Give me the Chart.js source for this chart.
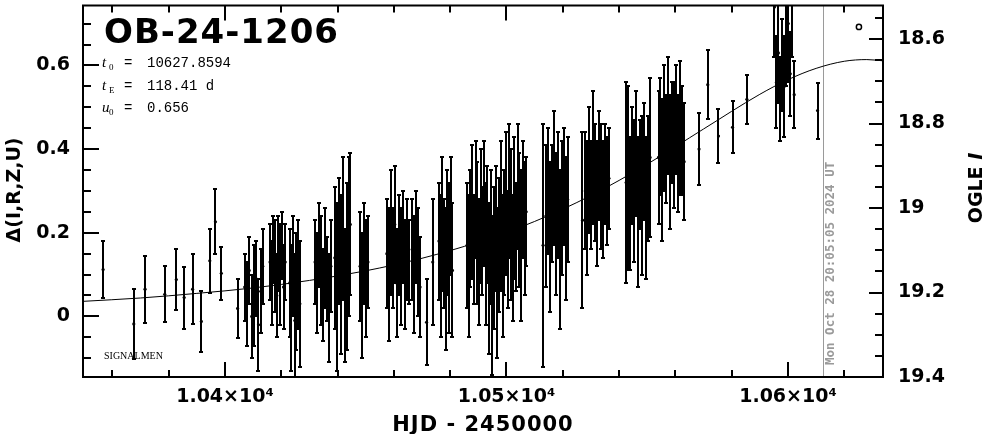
<!DOCTYPE html>
<html><head><meta charset="utf-8">
<script src="https://cdn.jsdelivr.net/npm/chart.js@4.4.1/dist/chart.umd.min.js"></script>
<style>html,body{margin:0;padding:0;background:#fff;}#wrap{width:986px;height:434px;position:relative;}</style>
</head><body><div id="wrap"><canvas id="c" width="986" height="434"></canvas></div>
<script>
// ---------- data ----------
const hjd = [
 10356.7,10367.6,10371.6,10378.6,10382.7,10385.5,10388.5,10391.6,10394.6,10396.6,10398.7,10404.5,
 10407.0,10407.8,10408.6,10409.5,10410.3,10411.1,10411.9,10412.7,10413.4,
 10416.0,10416.6,10417.2,10417.8,10418.4,10419.0,10419.6,10420.2,10420.8,10421.4,
 10423.0,10423.6,10424.2,10424.8,10425.4,10426.0,10426.6,
 10432.0,10432.7,10433.4,10434.1,10434.8,10435.5,10436.2,10436.9,10437.6,
 10439.0,10439.7,10440.4,10441.1,10441.8,10442.5,10443.2,10443.9,10444.5,
 10448.0,10448.7,10449.4,10450.1,10450.8,
 10457.5,10458.2,10458.9,10459.6,10460.3,10461.0,10461.7,10462.4,10463.1,10463.8,10464.5,10465.2,
 10466.5,10467.2,10467.9,10468.6,10469.3,
 10471.6,10473.8,
 10476.0,10476.6,10477.2,10477.8,10478.4,10479.0,10479.6,10480.2,10480.8,
 10486.0,10486.6,10487.2,10487.8,10488.4,10489.0,10489.6,10490.2,10490.8,10491.4,10492.0,10492.6,
 10493.2,10493.8,10494.4,10495.0,10495.6,10496.2,10496.8,10497.4,10498.0,10498.6,10499.2,10499.8,
 10500.4,10501.0,10501.6,10502.2,10502.8,10503.4,10504.0,10504.6,10505.2,10505.8,10506.4,10507.0,
 10513.0,10514.0,10514.7,10515.4,10516.1,10516.8,10517.5,10518.2,10518.9,10519.6,10520.3,10521.0,10521.7,
 10527.0,10528.0,10528.7,10529.4,10530.1,10530.8,10531.5,10532.2,10532.9,10533.6,10534.3,10535.0,10535.7,10536.4,
 10542.5,10543.2,10543.9,10544.6,10545.3,10546.0,10546.7,10547.4,10548.1,10548.8,10549.5,10550.2,10551.0,
 10554.0,10554.7,10555.4,10556.1,10556.8,10557.5,10558.2,10558.9,10559.6,10560.3,10561.0,10561.7,10562.4,10563.1,
 10568.4,10571.5,10575.3,10580.3,10585.4,
 10595.2,10595.9,10596.6,10597.3,10598.0,10598.7,10599.4,10600.1,10600.8,10601.5,10602.2,
 10610.5
];
const deltaMag = [
 0.112,-0.018,0.065,0.053,0.088,0.045,0.065,-0.012,0.133,0.226,0.103,0.019,
 0.07,0.03,0.11,0.00,0.05,0.09,-0.02,0.06,0.12,
 0.13,0.08,0.16,0.12,0.05,0.15,0.10,0.17,0.07,0.13,
 0.08,0.02,0.12,-0.01,0.06,0.10,0.03,
 0.13,0.08,0.17,0.11,0.05,0.14,0.09,0.02,0.12,
 0.14,0.07,0.18,0.10,0.21,0.05,0.12,0.19,0.22,
 0.12,0.05,0.15,0.09,0.13,
 0.15,0.10,0.20,0.14,0.22,0.08,0.17,0.12,0.19,0.10,0.16,0.13,
 0.16,0.10,0.19,0.13,0.07,
 -0.014,0.13,
 0.18,0.12,0.22,0.15,0.09,0.20,0.14,0.24,0.11,
 0.17,0.12,0.21,0.25,0.16,0.28,0.20,0.13,0.24,0.18,0.27,0.15,
 0.22,0.09,0.19,0.05,0.14,0.21,0.08,0.17,0.24,0.12,0.20,0.27,
 0.16,0.30,0.22,0.14,0.26,0.19,0.31,0.23,0.17,0.28,0.21,0.25,
 0.17,0.24,0.30,0.19,0.27,0.33,0.22,0.29,0.16,0.26,0.31,0.21,0.28,
 0.23,0.30,0.26,0.35,0.29,0.38,0.32,0.27,0.36,0.31,0.28,0.34,0.30,0.33,
 0.32,0.33,0.27,0.36,0.30,0.39,0.25,0.34,0.29,0.37,0.26,0.33,0.38,
 0.38,0.43,0.35,0.45,0.40,0.48,0.37,0.44,0.41,0.47,0.39,0.45,0.42,0.37,
 0.40,0.554,0.431,0.452,0.519,
 0.74,0.56,0.63,0.52,0.60,0.55,0.66,0.70,0.58,0.75,0.53,
 0.492
];
const errMag = [
 0.069,0.083,0.080,0.067,0.073,0.074,0.083,0.073,0.077,0.078,0.064,0.071,
 0.08,0.10,0.08,0.10,0.12,0.09,0.11,0.10,0.09,
 0.09,0.10,0.08,0.11,0.10,0.09,0.12,0.08,0.10,0.09,
 0.13,0.15,0.12,0.16,0.14,0.13,0.15,
 0.10,0.12,0.10,0.13,0.11,0.12,0.10,0.13,0.11,
 0.17,0.20,0.15,0.19,0.17,0.16,0.20,0.19,0.17,
 0.13,0.15,0.12,0.14,0.11,
 0.13,0.16,0.15,0.12,0.14,0.13,0.12,0.14,0.11,0.13,0.12,0.10,
 0.12,0.14,0.11,0.13,0.12,
 0.103,0.15,
 0.14,0.17,0.16,0.13,0.17,0.15,0.18,0.14,0.16,
 0.15,0.17,0.14,0.16,0.13,0.14,0.17,0.15,0.16,0.13,0.15,0.17,
 0.14,0.18,0.16,0.19,0.17,0.15,0.18,0.16,0.18,0.17,0.15,0.17,
 0.14,0.16,0.18,0.15,0.17,0.13,0.15,0.16,0.18,0.14,0.16,0.13,
 0.29,0.17,0.15,0.18,0.14,0.16,0.17,0.15,0.19,0.16,0.14,0.17,0.15,
 0.21,0.14,0.16,0.15,0.13,0.16,0.14,0.15,0.13,0.15,0.14,0.12,0.13,0.12,
 0.24,0.22,0.16,0.14,0.17,0.15,0.18,0.13,0.19,0.14,0.17,0.15,0.19,
 0.16,0.14,0.17,0.15,0.13,0.14,0.16,0.12,0.15,0.13,0.14,0.16,0.13,0.14,
 0.087,0.082,0.065,0.062,0.058,
 0.12,0.11,0.12,0.10,0.11,0.12,0.11,0.14,0.10,0.13,0.08,
 0.067
];
// model curve
const modelHJD = [10349.6,10370,10390,10410,10430,10450,10470,10490,10510,10530,10550,10570,10590,10600,10610,10620,10628,10633.8];
const modelDelta = [0.036,0.044,0.055,0.068,0.086,0.109,0.139,0.178,0.227,0.289,0.364,0.448,0.531,0.566,0.593,0.610,0.614,0.611];
const markerHJD = [10625.2];
const markerDelta = [0.692];
const nowHJD = 10612.4;
const nowLabel = 'Mon Oct 28 20:05:05 2024 UT';
const eventName = 'OB-24-1206';
const params = [['t','0','10627.8594'],['t','E','118.41 d'],['u','0','0.656']];

// ticks
const xMajorTicks = [10400,10500,10600];
const xTickLabels = ['1.04×10⁴','1.05×10⁴','1.06×10⁴'];
const xMinorTicks = [10360,10380,10420,10440,10460,10480,10520,10540,10560,10580,10620];
const yMajorTicks = [0,0.2,0.4,0.6];
const yTickLabels = ['0','0.2','0.4','0.6'];
const yMinorTicks = [-0.1,-0.05,0.05,0.1,0.15,0.25,0.3,0.35,0.45,0.5,0.55,0.65,0.7];
const magMajorTicks = [18.6,18.8,19,19.2,19.4];
const magTickLabels = ['18.6','18.8','19','19.2','19.4'];
const magMinorTicks = [18.55,18.65,18.7,18.75,18.85,18.9,18.95,19.05,19.1,19.15,19.25,19.3,19.35];

const TICKFONT = {family:'DejaVu Sans', size:19, weight:'bold'};

const n = Math.min(hjd.length, deltaMag.length, errMag.length);
const pts = [];
for (let i=0;i<n;i++) pts.push({x:hjd[i], y:deltaMag[i]});

const plug = {
  id:'ogle',
  beforeDatasetsDraw(chart){
    const {ctx, chartArea:a, scales:{x,y}} = chart;
    ctx.save();
    ctx.beginPath(); ctx.rect(a.left,a.top,a.right-a.left,a.bottom-a.top); ctx.clip();
    const lx = Math.round(x.getPixelForValue(nowHJD))+0.5;
    ctx.strokeStyle='#9a9a9a'; ctx.lineWidth=1;
    ctx.beginPath(); ctx.moveTo(lx,a.top); ctx.lineTo(lx,a.bottom); ctx.stroke();
    ctx.strokeStyle='#000'; ctx.lineWidth=2;
    ctx.beginPath();
    for (let i=0;i<n;i++){
      const px = Math.round(x.getPixelForValue(hjd[i]));
      const y1 = Math.round(y.getPixelForValue(deltaMag[i]+errMag[i]));
      const y2 = Math.round(y.getPixelForValue(deltaMag[i]-errMag[i]));
      ctx.moveTo(px,y1); ctx.lineTo(px,y2);
      ctx.moveTo(px-2,y1); ctx.lineTo(px+2,y1);
      ctx.moveTo(px-2,y2); ctx.lineTo(px+2,y2);
    }
    ctx.stroke();
    ctx.restore();
  },
  afterDraw(chart){
    const {ctx, chartArea:a, scales:{x,y,y2}} = chart;
    ctx.save();
    ctx.strokeStyle='#000'; ctx.lineWidth=2;
    ctx.strokeRect(a.left,a.top,a.right-a.left,a.bottom-a.top);
    ctx.beginPath();
    const hx = (v,len)=>{const p=Math.round(x.getPixelForValue(v));
      ctx.moveTo(p,a.bottom); ctx.lineTo(p,a.bottom-len); ctx.moveTo(p,a.top); ctx.lineTo(p,a.top+len);};
    xMajorTicks.forEach(v=>hx(v,15)); xMinorTicks.forEach(v=>hx(v,7));
    const vl = (v,len)=>{const p=Math.round(y.getPixelForValue(v)); ctx.moveTo(a.left,p); ctx.lineTo(a.left+len,p);};
    yMajorTicks.forEach(v=>vl(v,16)); yMinorTicks.forEach(v=>vl(v,8));
    const vr = (v,len)=>{const p=Math.round(y2.getPixelForValue(v)); ctx.moveTo(a.right,p); ctx.lineTo(a.right-len,p);};
    magMajorTicks.forEach(v=>vr(v,14)); magMinorTicks.forEach(v=>vr(v,8));
    ctx.stroke();

    ctx.fillStyle='#000';
    ctx.font='bold 34px "DejaVu Sans"'; ctx.textBaseline='alphabetic'; ctx.textAlign='left';
    ctx.letterSpacing='1px';
    ctx.fillText(eventName, 104, 43);
    ctx.letterSpacing='0px';
    const rows=[67,90,112];
    params.forEach((p,i)=>{
      const yb=rows[i];
      ctx.font='italic 15px "Liberation Serif"'; ctx.fillText(p[0],102,yb);
      ctx.font='9px "Liberation Serif"'; ctx.fillText(p[1],109,yb+3);
      ctx.font='14px "Liberation Mono"'; ctx.fillText('=',124,yb);
      ctx.fillText(p[2],147,yb);
    });
    ctx.font='10px "Liberation Serif"'; ctx.fillText('SIGNALMEN',104,359);
    ctx.font='bold 21px "DejaVu Sans"'; ctx.textAlign='center'; ctx.textBaseline='middle';
    ctx.letterSpacing='1px';
    ctx.fillText('HJD - 2450000',483,426);
    ctx.letterSpacing='0px';
    ctx.save(); ctx.translate(15,190); ctx.rotate(-Math.PI/2);
    ctx.font='bold 19px "DejaVu Sans"'; ctx.fillText('Δ(I,R,Z,U)',0,0); ctx.restore();
    ctx.save(); ctx.translate(977,188); ctx.rotate(-Math.PI/2);
    ctx.font='bold 19px "DejaVu Sans"';
    const w1=ctx.measureText('OGLE ').width;
    ctx.font='bold italic 19px "DejaVu Sans"';
    const w2=ctx.measureText('I').width;
    ctx.textAlign='left';
    ctx.font='bold 19px "DejaVu Sans"'; ctx.fillText('OGLE ',-(w1+w2)/2,0);
    ctx.font='bold italic 19px "DejaVu Sans"'; ctx.fillText('I',-(w1+w2)/2+w1,0);
    ctx.restore();
    ctx.save(); ctx.translate(Math.round(x.getPixelForValue(nowHJD))+8,365); ctx.rotate(-Math.PI/2);
    ctx.fillStyle='#9a9a9a'; ctx.font='bold 12.5px "DejaVu Sans Mono"'; ctx.textAlign='left'; ctx.textBaseline='middle';
    ctx.fillText(nowLabel,0,0); ctx.restore();
    ctx.restore();
  }
};

const fixV = w => s => { s.width = w; s.paddingTop = 0; s.paddingBottom = 0; };
new Chart(document.getElementById('c'),{
  data:{datasets:[
    {type:'line', data:modelHJD.map((t,i)=>({x:t,y:modelDelta[i]})), borderColor:'#000', borderWidth:1,
     pointRadius:0, cubicInterpolationMode:'monotone', fill:false, order:2},
    {type:'scatter', data:pts, pointRadius:1.6, backgroundColor:'#000', borderWidth:0, order:1},
    {type:'scatter', data:markerHJD.map((t,i)=>({x:t,y:markerDelta[i]})), pointRadius:2.6,
     pointStyle:'circle', backgroundColor:'rgba(0,0,0,0)', borderColor:'#000', borderWidth:1.5, order:0}
  ]},
  options:{
    responsive:false, animation:false, devicePixelRatio:1,
    layout:{padding:{top:1,left:0,right:0,bottom:0}},
    plugins:{legend:{display:false}, tooltip:{enabled:false}},
    scales:{
      x:{type:'linear', position:'bottom', min:10349.56, max:10633.75,
        afterFit:s=>{s.height=57; s.paddingLeft=0; s.paddingRight=0;},
        afterBuildTicks:s=>{s.ticks=xMajorTicks.map(v=>({value:v}));},
        grid:{display:false, drawTicks:false}, border:{display:false},
        ticks:{autoSkip:false, maxRotation:0, padding:9, color:'#000', font:TICKFONT,
          callback:(v,i)=>xTickLabels[i]}},
      y:{type:'linear', position:'left', min:-0.1449, max:0.7433,
        afterFit:fixV(83),
        afterBuildTicks:s=>{s.ticks=yMajorTicks.map(v=>({value:v}));},
        grid:{display:false, drawTicks:false}, border:{display:false},
        ticks:{autoSkip:false, padding:13, color:'#000', font:TICKFONT, callback:(v,i)=>yTickLabels[i]}},
      y2:{type:'linear', position:'right', reverse:true, min:18.5205, max:19.4,
        afterFit:fixV(103),
        afterBuildTicks:s=>{s.ticks=magMajorTicks.map(v=>({value:v}));},
        grid:{display:false, drawTicks:false}, border:{display:false},
        ticks:{autoSkip:false, padding:15, color:'#000', font:TICKFONT, callback:(v,i)=>magTickLabels[i]}}
    }
  },
  plugins:[plug]
});
</script></body></html>
